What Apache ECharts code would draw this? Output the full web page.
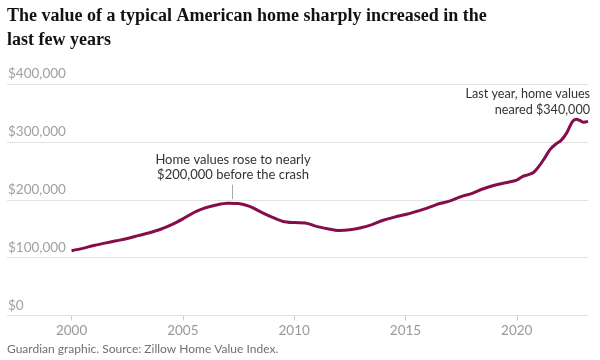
<!DOCTYPE html>
<html><head><meta charset="utf-8">
<script src="https://cdn.jsdelivr.net/npm/echarts@6/dist/echarts.min.js"></script>
<style>html,body{margin:0;padding:0;background:#fff}#c{width:600px;height:360px}</style>
</head><body><div id="c"></div>
<script>
const years = [2000.0,2000.5,2001.0,2001.5,2002.0,2002.5,2003.0,2003.5,2004.0,2004.5,2005.0,2005.5,2006.0,2006.5,2007.0,2007.5,2008.0,2008.5,2009.0,2009.5,2010.0,2010.5,2011.0,2011.5,2012.0,2012.5,2013.0,2013.5,2014.0,2014.5,2015.0,2015.5,2016.0,2016.5,2017.0,2017.5,2018.0,2018.5,2019.0,2019.5,2020.0,2020.25,2020.5,2020.75,2021.0,2021.25,2021.5,2021.75,2022.0,2022.25,2022.5,2022.67,2022.83,2023.0,2023.2];
const homeValues = [112000,116000,121000,125000,129000,133000,138000,143000,149000,157000,167000,178000,186000,191000,194000,193500,188500,179000,170000,162500,160500,160000,154000,150000,147000,148000,151500,157000,164500,170000,174500,180000,186000,193000,198000,205500,211000,219000,225000,229500,234000,240000,243000,247000,258000,272000,287000,296000,303000,316000,335000,339000,337000,334000,335500];
const yTicks = [0,100000,200000,300000,400000];
const xTicks = [2000,2005,2010,2015,2020];
const titleLines = ["The value of a typical American home sharply increased in the","last few years"];
const note1 = ["Home values rose to nearly","$200,000 before the crash"];
const note2 = ["Last year, home values","neared $340,000"];
const sourceText = "Guardian graphic. Source: Zillow Home Value Index.";

const chart = echarts.init(document.getElementById('c'));
const sans = 'Lato';
const fmt = v => '$' + v.toLocaleString('en-US');
chart.setOption({
  animation:false,
  grid:{left:7,right:12,top:84,bottom:44.5},
  xAxis:{type:'value',min:1997.1,max:2023.2,
    axisLine:{show:false},
    splitLine:{show:false},
    axisTick:{show:true,customValues:xTicks,length:5,lineStyle:{color:'#cccccc'}},
    axisLabel:{customValues:xTicks,formatter:v=>String(v),color:'#999999',fontFamily:sans,fontSize:13.5,margin:8}
  },
  yAxis:{type:'value',min:0,max:400000,interval:100000,
    axisLine:{show:false},axisTick:{show:false},
    splitLine:{lineStyle:{color:'#e2e2e2',width:1}},
    axisLabel:{inside:true,margin:1,formatter:fmt,color:'#a0a0a0',fontFamily:sans,fontSize:13.5,verticalAlign:'bottom',padding:[0,0,3,0]}
  },
  series:[{type:'line',data:years.map((y,i)=>[y,homeValues[i]]),smooth:0.3,showSymbol:false,
    lineStyle:{color:'#850d4c',width:3},
    markLine:{silent:true,symbol:'none',label:{show:false},lineStyle:{color:'#aaaaaa',width:1,type:'solid'},
      data:[[{coord:[2007.2,201000]},{coord:[2007.2,226000]}]]}
  }],
  graphic:[
    {type:'text',left:7,top:4,style:{text:titleLines.join('\n'),font:'bold 18px "Liberation Serif"',lineHeight:24,fill:'#121212'}},
    {type:'text',x:233,y:152,style:{text:note1.join('\n'),font:'13px Lato',lineHeight:15,fill:'#333333',align:'center'}},
    {type:'text',x:590,y:86,style:{text:note2.join('\n'),font:'12.6px Lato',lineHeight:16,fill:'#333333',align:'right'}},
    {type:'text',left:7,top:343,style:{text:sourceText,font:'12px Lato',fill:'#707070'}}
  ]
});
</script></body></html>
